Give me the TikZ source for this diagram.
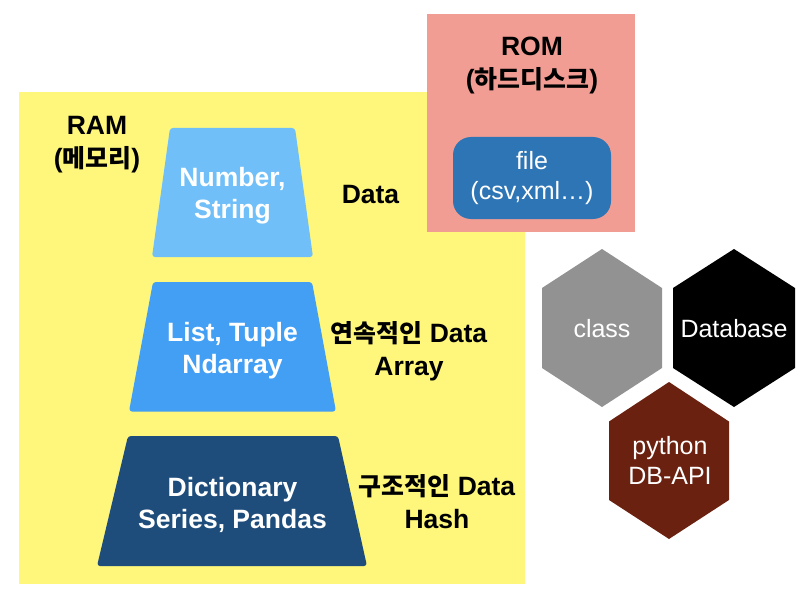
\documentclass[tikz,border=0pt]{standalone}
\usepackage{fontspec}
\setmainfont{Liberation Sans}
\newfontfamily\kr{Noto Sans CJK KR}[Scale=0.94]

\definecolor{ramyellow}{HTML}{FEF77C}
\definecolor{rompink}{HTML}{F29D93}
\definecolor{fileblue}{HTML}{2E75B5}
\definecolor{tierone}{HTML}{70BFF8}
\definecolor{tiertwo}{HTML}{439FF3}
\definecolor{tierthree}{HTML}{1E4C7B}
\definecolor{hexgray}{HTML}{929292}
\definecolor{hexred}{HTML}{6B2110}

\tikzset{
  heading/.style={font=\fontsize{26.5}{33}\selectfont\bfseries, align=center, text=black, inner sep=0pt},
  tiertext/.style={font=\fontsize{26.5}{32}\selectfont\bfseries, align=center, text=white, inner sep=0pt},
  plaintext/.style={font=\fontsize{25}{30}\selectfont, align=center, text=white, inner sep=0pt},
  tier/.style={rounded corners=3pt},
}

\begin{document}
\begin{tikzpicture}[x=1pt,y=-1pt]
\useasboundingbox (0,0) rectangle (800,591);

% memory area and storage area
\fill[ramyellow] (19,92) rectangle (525,584);
\fill[rompink] (427,14) rectangle (635,232);
\node[heading] (romlabel) at (532,65) {ROM\\({\kr 하드디스크})};
\node[plaintext, fill=fileblue, rounded corners=18pt,
      minimum width=158pt, minimum height=82pt] (file) at (532,178) {file\\(csv,xml…)};

\node[heading] (ramlabel) at (97,145) {RAM\\({\kr 메모리})};

% data structure tiers
\fill[tierone, tier] (170,128) -- (295,128) -- (313,257) -- (152,257) -- cycle;
\node[tiertext] (number) at (232.5,196) {Number,\\String};
\node[heading] (data) at (370.5,194.5) {Data};

\fill[tiertwo, tier] (153,282) -- (312,282) -- (336,411.5) -- (129,411.5) -- cycle;
\node[tiertext] (list) at (232.5,351) {List, Tuple\\Ndarray};
\node[heading] (array) at (409,351) {{\kr 연속적인} Data\\Array};

\fill[tierthree, tier] (128,436) -- (338,436) -- (367,566) -- (97,566) -- cycle;
\node[tiertext] (dict) at (232.5,504.5) {Dictionary\\Series, Pandas};
\node[heading] (hash) at (437,502) {{\kr 구조적인} Data\\Hash};

% hexagons
\fill[hexgray] (602,249) -- (662,288) -- (662,368) -- (602,407) -- (542,368) -- (542,288) -- cycle;
\node[plaintext] (class) at (602,328.5) {class};

\fill[black] (734,249) -- (795,288) -- (795,368) -- (734,407) -- (673,368) -- (673,288) -- cycle;
\node[plaintext] (database) at (734,328.5) {Database};

\fill[hexred] (669,382) -- (729,421.5) -- (729,500) -- (669,539) -- (609,500) -- (609,421.5) -- cycle;
\node[plaintext] (dbapi) at (670,460) {python\\DB-API};
\end{tikzpicture}
\end{document}
